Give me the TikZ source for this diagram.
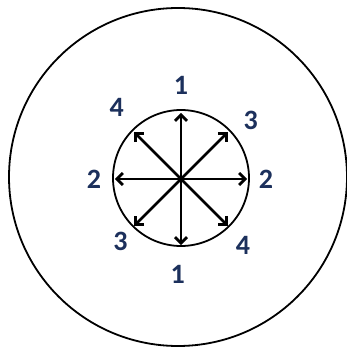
\documentclass[tikz,border=0pt]{standalone}
\usepackage{fontspec}
\setmainfont{Carlito}
\usepackage{xcolor}
\usetikzlibrary{arrows.meta}
\definecolor{navy}{RGB}{28,48,92}

\begin{document}
\begin{tikzpicture}[x=1pt, y=1pt,
  ring/.style  = {draw=black, line width=1.8pt},
  ray/.style   = {-{Straight Barb[length=6pt, width=12pt]}, line width=2.8pt},
  digit/.style = {font=\fontsize{28}{28}\selectfont\bfseries, text=navy, inner sep=0pt},
]
\useasboundingbox (-181, -169) rectangle (166, 179);

%% outer and inner circles
\draw[ring] (-3, 2) circle[radius=169];
\draw[ring] (0, 1) circle[radius=68];
\coordinate (hub) at (0, 0);

%% eight rays
\foreach \ang in {0, 45, ..., 315}{
  \coordinate (tip\ang) at (\ang:66);
  \draw[ray] (hub) -- (tip\ang);
}

%% numbers round the inner circle
\foreach \ang/\num/\rad in {90/1/94, 132/4/96, 40/3/91, 180/2/87,
                            0/2/85, 226/3/87, 313/4/91, 268/1/95}{
  \node[digit] (lbl\ang) at (\ang:\rad) {\num};
}

\end{tikzpicture}
\end{document}
